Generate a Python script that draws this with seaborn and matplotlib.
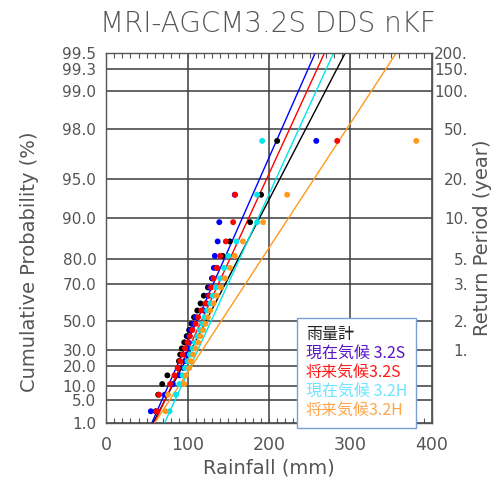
import numpy as np
import pandas as pd
import seaborn as sns
import matplotlib.pyplot as plt
from matplotlib.lines import Line2D

# plotting positions (%) of the 24 ranked annual maxima, shared by all series
prob = [2.5, 6.6, 10.7, 14.9, 19.0, 23.1, 27.3, 31.4, 35.5, 39.7, 43.8, 47.9,
        52.1, 56.2, 60.3, 64.5, 68.6, 72.7, 76.9, 81.0, 85.1, 89.3, 93.4, 97.5]

gauge = [61, 64, 69, 75.3, 88.8, 89.5, 91, 93, 96, 99, 102, 105,
         108, 112, 116, 120, 125, 130, 136, 143, 152, 176.8, 190.3, 210]
present_s = [55, 72, 82, 90, 95, 97, 99, 100, 101, 102, 104, 107,
             110, 120, 123.6, 125, 127, 131, 132.3, 133.5, 137, 139, 158, 258]
future_s = [62, 65, 78.6, 84, 88, 91, 94, 97, 100, 103, 106, 110,
            113, 117, 122, 126.5, 129, 132, 136, 140, 147, 156, 158.4, 283.7]
present_h = [78, 86, 90, 94, 97, 100, 103, 106, 109, 112, 115, 118,
             121, 124, 128, 131, 135, 140, 145, 150, 160, 185.4, 185.4, 191.6]
future_h = [73, 76, 96, 98, 102, 104, 107, 110, 113, 116, 119, 122,
            125, 128, 132, 136, 141, 146, 152, 158, 168, 192.8, 222.3, 380.7]

# fitted Gumbel lines, rainfall (mm) read at 1.0 % and 99.5 %
fit_prob = [1.0, 99.5]
fit_gauge = [57.5, 293.5]
fit_present_s = [56.0, 256.7]
fit_future_s = [59.3, 268.1]
fit_present_h = [71.6, 279.2]
fit_future_h = [59.4, 356.2]

series = ["雨量計", "現在気候 3.2S", "将来気候3.2S", "現在気候 3.2H", "将来気候3.2H"]
point_colors = ["#000000", "#0000ff", "#ff0000", "#00e5ee", "#ff9a1a"]
text_colors = ["#222222", "#5a14c8", "#ff1a1a", "#6fe3ff", "#ffa64d"]

prob_ticks = [1.0, 5.0, 10.0, 20.0, 30.0, 50.0, 70.0, 80.0, 90.0, 95.0, 98.0, 99.0, 99.333, 99.5]
prob_labels = ["1.0", "5.0", "10.0", "20.0", "30.0", "50.0", "70.0", "80.0",
               "90.0", "95.0", "98.0", "99.0", "99.3", "99.5"]
period_ticks = [99.5, 99.333, 99.0, 98.0, 95.0, 90.0, 80.0, 70.0, 50.0, 30.0]
period_labels = ["200.", "150.", "100.", "50.", "20.", "10.", "5.", "3.", "2.", "1."]

pts = pd.DataFrame({
    "rain": gauge + present_s + future_s + present_h + future_h,
    "prob": prob * 5,
    "series": np.repeat(series, len(prob)),
})
fits = pd.DataFrame({
    "rain": fit_gauge + fit_present_s + fit_future_s + fit_present_h + fit_future_h,
    "prob": fit_prob * 5,
    "series": np.repeat(series, 2),
})


def gumbel(p):
    p = np.clip(np.asarray(p, dtype=float), 1e-9, 100 - 1e-9) / 100
    return -np.log(-np.log(p))


def gumbel_inv(z):
    return 100 * np.exp(-np.exp(-np.asarray(z, dtype=float)))


sns.set_style("white")
plt.rcParams["font.family"] = ["DejaVu Sans"]
gray = "#555555"

fig = plt.figure(figsize=(4.97, 4.80), dpi=100)
ax = fig.add_axes([0.2133, 0.1181, 0.6559, 0.7715])
ax.set_yscale("function", functions=(gumbel, gumbel_inv))

pal = dict(zip(series, point_colors))
sns.lineplot(data=fits, x="rain", y="prob", hue="series", hue_order=series,
             palette=pal, estimator=None, sort=False, lw=1.0, legend=False, ax=ax)
sns.scatterplot(data=pts, x="rain", y="prob", hue="series", hue_order=series,
                palette=pal, s=18, linewidth=0, legend=False, ax=ax, zorder=3)

ax.set_xlim(0, 400)
ax.set_ylim(1.0, 99.5)
ax.set_xticks([0, 100, 200, 300, 400])
ax.set_xticks(np.arange(0, 401, 10), minor=True)
ax.set_yticks(prob_ticks)
ax.set_yticklabels(prob_labels)
ax.yaxis.set_minor_locator(plt.NullLocator())
ax.set_axisbelow(True)
ax.grid(True, which="major", color="#3c3c3c", lw=1.1)
ax.tick_params(axis="x", which="both", direction="in", top=True, bottom=True,
               length=3.6, width=0.8, color=gray, labelsize=12.5, labelcolor=gray, pad=9)
ax.tick_params(axis="y", length=0, labelsize=11, labelcolor=gray, pad=7)
ax.set_xlabel("")
ax.set_ylabel("")
for sp in ax.spines.values():
    sp.set_color(gray)
    sp.set_linewidth(1.0)

ax2 = ax.twinx()
ax2.set_yscale("function", functions=(gumbel, gumbel_inv))
ax2.set_ylim(1.0, 99.5)
ax2.set_yticks(period_ticks)
ax2.set_yticklabels(period_labels)
ax2.yaxis.set_minor_locator(plt.NullLocator())
ax2.tick_params(axis="y", length=0, labelsize=11, labelcolor=gray, pad=26)
for lab in ax2.get_yticklabels():
    lab.set_ha("right")
for sp in ax2.spines.values():
    sp.set_visible(False)

handles = [Line2D([], [], linestyle="none") for _ in series]
leg = ax.legend(handles, series, loc="lower left", bbox_to_anchor=(0.586, -0.012),
                borderaxespad=0, handlelength=0, handletextpad=0, labelspacing=0.12,
                borderpad=0.55, fancybox=False, framealpha=1, labelcolor=text_colors,
                prop={"family": ["Noto Sans CJK JP", "DejaVu Sans"], "size": 11.5})
leg.get_frame().set_edgecolor("#7a9fd6")
leg.get_frame().set_linewidth(1.0)
leg.set_zorder(5)

fig.text(0.54, 0.95, "MRI-AGCM3.2S DDS nKF", ha="center", va="center",
         fontsize=20, color=gray, fontweight="light")
fig.text(0.54, 0.025, "Rainfall (mm)", ha="center", va="center", fontsize=14, color=gray)
fig.text(0.06, 0.455, "Cumulative Probability (%)", ha="center", va="center",
         rotation=90, fontsize=14, color=gray)
fig.text(0.97, 0.505, "Return Period (year)", ha="center", va="center",
         rotation=90, fontsize=14, color=gray)

fig.savefig("out.png", dpi=100)
